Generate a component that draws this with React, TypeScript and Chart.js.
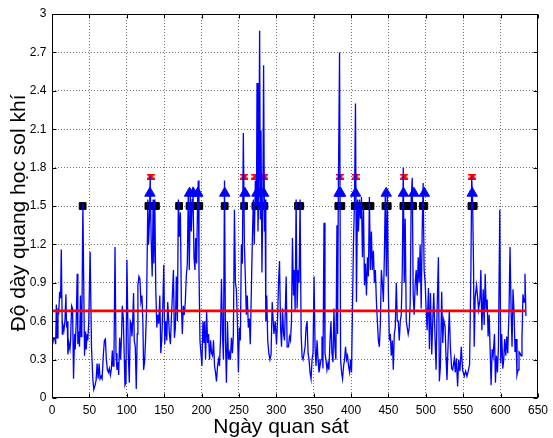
import React, { useEffect, useRef } from "react";
import { Chart, registerables } from "chart.js";

Chart.register(...registerables);

const FONT = '"Liberation Sans", Arial, Helvetica, sans-serif';

const xTitle = "Ngày quan sát";
const yTitle = "Độ dày quang học sol khí";

const xTicks = [0, 50, 100, 150, 200, 250, 300, 350, 400, 450, 500, 550, 600, 650];
const xTickLabels = ["0", "50", "100", "150", "200", "250", "300", "350", "400", "450", "500", "550", "600", "650"];
const yTicks = [0, 0.3, 0.6, 0.9, 1.2, 1.5, 1.8, 2.1, 2.4, 2.7, 3];
const yTickLabels = ["0", "0.3", "0.6", "0.9", "1.2", "1.5", "1.8", "2.1", "2.4", "2.7", "3"];

// observation day (x) of each AOD reading
const obsDays = [
  1, 2, 3.5, 4.9, 5.8, 6.7, 8, 8.9, 10.2, 11.5,
  12.4, 13.8, 14.6, 16, 17.3, 18.6, 19.5, 20.4, 21.3, 22.6,
  24, 24.8, 26.2, 27.5, 28.8, 30.2, 31, 32.4, 33.7, 34.6,
  35.9, 36.8, 38.1, 39, 39.9, 41.3, 42.6, 43.5, 44.8, 45.7,
  47, 47.9, 49.2, 51, 52.8, 54.6, 55.9, 57.7, 59, 60.3,
  61.7, 63, 64.3, 65.6, 67, 68.8, 70.1, 71.4, 72.7, 74.1,
  75.4, 76.7, 78.1, 79.4, 80.7, 81.6, 82.9, 84.3, 85.6, 86.9,
  88.3, 89.2, 90.5, 91.8, 93.1, 94, 95.4, 96.7, 97.6, 98.9,
  100.2, 102, 103.4, 104.7, 106, 106.9, 107.8, 109.1, 110, 111.4,
  112.7, 114, 114.9, 116.3, 117.6, 118.9, 120.3, 121.6, 122.5, 123.8,
  125.1, 126.4, 128.2, 129.1, 130.4, 131.3, 132.6, 134, 135.3, 136.2,
  137.5, 138.8, 140.2, 141.5, 142.8, 144.2, 145.5, 146.8, 148.1, 149.5,
  150.8, 152.1, 153.5, 154.8, 155.7, 157, 158.4, 159.7, 161, 162.4,
  163.7, 165, 166.3, 167.7, 169, 170.3, 171.7, 173, 174.3, 175.6,
  177, 178.3, 179.6, 181, 182.3, 183.6, 185, 186.3, 187.6, 188.5,
  189.9, 191.2, 192.1, 193.4, 194.8, 195.7, 196.6, 197.9, 199.2, 200.5,
  201.9, 203.2, 204.1, 205.4, 206.8, 208.1, 209.4, 210.7, 212.1, 213.4,
  214.7, 216, 217.4, 218.7, 220, 221.4, 222.7, 224, 225.3, 226.7,
  228, 229.3, 230.7, 232, 233.3, 234.7, 236, 237.3, 238.6, 240,
  241.3, 242.6, 244, 245.3, 246.6, 247.9, 249.3, 250.6, 251.9, 253.3,
  254.6, 255.9, 257.3, 258.6, 259.9, 261.2, 262.6, 263.9, 265.2, 266.5,
  268, 269.3, 270.5, 272, 273.5, 274.2, 275.5, 276.5, 277.7, 278.7,
  279.5, 280.8, 282, 283, 284.2, 285, 286, 287.2, 288.5, 290,
  291.5, 293, 294.5, 296.8, 298.5, 300.3, 301.7, 303, 304.3, 305.7,
  307, 308.3, 309.7, 311, 312, 313.2, 314.5, 316.3, 317.6, 319,
  320.3, 321.6, 323, 323.9, 325.2, 326.5, 327.8, 329.2, 330.5, 331.8,
  333.2, 334.5, 335.8, 337.2, 338.5, 339.8, 341.2, 342.5, 343.8, 345.1,
  346.5, 347.8, 349.1, 350.5, 351.8, 353.1, 354.5, 355.8, 357.1, 358.5,
  359.8, 361.1, 362.4, 363.8, 365.1, 366.4, 367.8, 369.1, 370.4, 371.8,
  373.1, 374.4, 375.8, 377.1, 378.4, 379.7, 381.1, 382, 382.9, 384.6,
  386, 387.3, 388.6, 390, 391.3, 392.6, 394, 395.3, 396.6, 398,
  399.3, 400.6, 402, 403.2, 404.6, 405.9, 407.2, 408.6, 409.9, 411.2,
  412.6, 413.9, 415.2, 416.6, 417.9, 419.2, 420.6, 421.9, 423.2, 424.5,
  425.9, 427.2, 428.5, 429.9, 431.2, 432.5, 433.9, 435.2, 436.5, 437.8,
  439.2, 440.5, 441.8, 443.2, 444.5, 445.8, 447.2, 448.5, 449.8, 451.2,
  452.5, 453.8, 455.2, 456.5, 457.8, 459.1, 460.5, 461.8, 463.1, 464.5,
  465.8, 467.1, 468.5, 469.8, 471.1, 472.4, 473.8, 475.1, 476.4, 477.8,
  479.1, 480.4, 481.8, 483.1, 484.4, 485.8, 487.1, 488.4, 489.8, 491.1,
  492.4, 493.8, 495.1, 496.4, 497.7, 499.1, 500.4, 501.7, 503.5, 504.8,
  506.2, 507.9, 509.3, 510.6, 512.4, 513.7, 515, 516.8, 518.1, 519.5,
  521.2, 522.6, 523.9, 525.7, 527, 528.3, 530.1, 531.4, 532.8, 534.5,
  535.9, 538.1, 539.4, 540.8, 542.5, 543.9, 545.6, 547.4, 549.2, 551.4,
  553.2, 555, 556.7, 558.5, 560.3, 561.3, 562.5, 563.8, 564.7, 566,
  567.8, 569.2, 570.5, 572.3, 573.6, 574.9, 576.7, 578, 579.4, 580.7,
  582, 583.3, 584.7, 586, 587.3, 588.7, 590, 591.8, 593.1, 594.4,
  595.8, 597.1, 598.9, 600.2, 601.5, 602.9, 604.2, 605.5, 606.9, 608.2,
  609.5, 611.3, 612.6, 614, 615.3, 616.6, 618, 619.3, 620.6, 621.9,
  623.3, 624.6, 625.9, 627.3, 628.6, 629.9, 631.3, 632.6, 633.9,
];

// aerosol optical depth at each observation day
const aodValues = [
  0.42, 0.47, 0.47, 0.42, 0.73, 0.47, 0.70, 0.65, 0.83, 0.78,
  1.16, 0.50, 0.57, 0.53, 0.60, 0.81, 0.55, 0.60, 0.34, 0.43,
  0.38, 0.44, 0.72, 0.70, 0.15, 0.50, 0.38, 0.60, 0.97, 0.42,
  0.52, 0.40, 0.80, 0.48, 0.58, 1.52, 0.80, 0.33, 0.52, 0.38,
  0.50, 0.45, 0.60, 1.14, 0.40, 0.15, 0.065, 0.10, 0.14, 0.27,
  0.15, 0.27, 0.15, 0.17, 0.15, 0.35, 0.45, 0.46, 0.30, 0.22,
  0.20, 0.23, 0.18, 0.23, 0.37, 0.25, 0.35, 1.18, 0.35, 0.22,
  0.28, 0.18, 0.47, 0.30, 0.50, 0.72, 0.62, 0.30, 0.10, 0.12,
  1.08, 0.35, 0.12, 0.60, 0.58, 0.48, 0.58, 0.82, 0.45, 0.40,
  0.07, 0.50, 0.88, 0.95, 0.93, 0.75, 0.80, 0.58, 0.22, 0.28,
  0.45, 0.68, 1.55, 1.20, 1.40, 1.73, 1.25, 0.95, 1.55, 1.05,
  1.55, 0.85, 0.55, 0.65, 0.58, 0.80, 0.35, 0.45, 0.70, 1.04,
  0.42, 0.60, 0.45, 0.75, 0.65, 0.50, 0.42, 0.63, 0.80, 1.00,
  0.47, 0.55, 0.95, 0.60, 1.55, 1.26, 1.45, 0.75, 0.50, 0.72,
  0.65, 0.75, 0.95, 1.05, 1.62, 1.00, 1.60, 1.30, 1.55, 1.65,
  1.10, 1.00, 1.25, 1.05, 1.55, 1.70, 1.00, 0.45, 0.35, 0.25,
  0.60, 0.43, 0.60, 0.30, 0.68, 0.43, 0.50, 0.30, 0.45, 0.35,
  0.33, 0.45, 0.25, 0.20, 0.13, 0.25, 0.30, 0.25, 0.45, 0.93,
  0.50, 0.30, 1.70, 0.45, 0.12, 0.60, 0.30, 0.35, 0.30, 0.47,
  0.35, 0.50, 1.47, 0.90, 0.85, 0.60, 0.20, 0.55, 0.45, 1.20,
  1.05, 2.07, 1.20, 0.95, 0.65, 0.80, 0.55, 0.62, 0.42, 0.80,
  1.25, 1.55, 1.20, 1.70, 1.50, 2.46, 1.30, 1.60, 2.87, 1.40,
  2.09, 0.98, 1.55, 2.60, 1.30, 1.55, 0.60, 0.80, 0.45, 0.35,
  0.30, 0.34, 0.75, 0.50, 0.60, 0.42, 0.62, 0.90, 1.07, 0.55,
  0.40, 0.70, 0.50, 0.45, 0.68, 0.95, 0.40, 0.40, 0.48, 0.45,
  0.60, 1.25, 0.80, 1.00, 0.68, 1.55, 0.70, 1.00, 0.90, 1.55,
  0.50, 0.32, 0.30, 0.35, 0.40, 0.55, 0.60, 0.35, 0.30, 0.20,
  0.15, 0.30, 0.35, 0.95, 0.40, 0.25, 0.45, 0.30, 0.20, 0.25,
  0.30, 0.48, 0.23, 1.37, 0.35, 0.30, 0.22, 0.27, 0.22, 0.45,
  0.60, 0.35, 0.28, 0.70, 0.40, 0.30, 1.35, 0.50, 1.55, 2.70,
  0.30, 0.20, 0.15, 0.25, 0.30, 0.40, 0.30, 0.33, 0.25, 0.20,
  0.30, 0.20, 0.75, 1.20, 1.55, 2.30, 0.75, 1.55, 1.30, 1.55,
  1.40, 1.57, 1.10, 1.50, 0.88, 1.05, 0.80, 1.10, 0.95, 1.57,
  1.00, 1.30, 1.00, 1.15, 0.90, 1.00, 0.75, 0.60, 0.45, 0.40,
  0.58, 1.00, 0.90, 0.75, 1.10, 1.60, 0.95, 1.62, 0.85, 0.45,
  0.50, 0.33, 0.45, 0.22, 0.50, 0.55, 0.90, 0.60, 0.60, 0.45,
  0.60, 0.65, 1.00, 1.80, 0.90, 1.40, 0.60, 0.55, 0.50, 0.55,
  0.75, 1.55, 1.72, 0.80, 0.65, 0.90, 1.00, 0.80, 1.10, 0.90,
  1.20, 0.70, 1.30, 1.68, 1.00, 0.90, 0.69, 0.53, 0.86, 0.38,
  0.82, 0.34, 0.61, 0.82, 0.45, 0.22, 0.68, 1.10, 0.13, 0.25,
  0.83, 0.43, 0.61, 0.56, 0.32, 0.14, 0.48, 0.68, 0.40, 0.23,
  0.22, 0.31, 0.20, 0.31, 0.09, 0.30, 0.21, 0.40, 0.22, 0.17,
  0.21, 0.17, 0.21, 0.26, 1.00, 1.73, 1.55, 1.03, 0.40, 0.79,
  0.88, 0.79, 0.69, 0.77, 1.00, 0.53, 0.85, 0.57, 0.97, 0.69,
  0.77, 0.48, 0.65, 0.38, 0.10, 0.38, 0.33, 0.50, 0.12, 0.33,
  0.20, 0.40, 1.47, 0.27, 0.50, 0.23, 0.30, 0.46, 0.33, 0.48,
  0.35, 0.69, 1.18, 0.69, 0.40, 0.85, 0.66, 0.36, 0.46, 0.18,
  0.22, 0.36, 0.35, 0.33, 0.46, 0.81, 0.75, 0.97, 0.64,
];

// mean AOD line
const meanAod = 0.68;
const meanDays = [1, 634];

// marker rows
const squareLevel = 1.5;
const squareDays = [41, 129, 132, 135, 139, 170, 184, 187, 190, 194, 197, 231, 257, 272, 275, 278, 281, 284, 329, 332, 383, 387, 405, 408, 411, 414, 417, 420, 423, 426, 446, 449, 470, 473, 477, 480, 483, 496, 498, 561, 564];
const triangleLevel = 1.6;
const triangleDays = [131, 184, 189, 195, 231, 258, 274, 278, 283, 384, 386, 406, 447, 470, 484, 498, 562];
const starLevel = 1.73;
const starDays = [132, 257, 272, 278, 284, 385, 406, 471, 562];

function makeStarImage(): HTMLCanvasElement {
  const c = document.createElement("canvas");
  c.width = 8;
  c.height = 6;
  const g = c.getContext("2d")!;
  g.fillStyle = "#ff0000";
  g.beginPath();
  g.moveTo(0, 0);
  g.lineTo(8, 0);
  g.lineTo(8, 1.6);
  g.lineTo(5.6, 3);
  g.lineTo(8, 4.4);
  g.lineTo(8, 6);
  g.lineTo(0, 6);
  g.lineTo(0, 4.4);
  g.lineTo(2.4, 3);
  g.lineTo(0, 1.6);
  g.closePath();
  g.fill();
  return c;
}

const boxPlugin = {
  id: "matlabBox",
  afterDraw(chart: any) {
    const { ctx, chartArea: a, scales } = chart;
    ctx.save();
    const L = Math.round(a.left) + 0.5;
    const R = Math.round(a.right) - 0.5;
    const T = Math.round(a.top) + 0.5;
    const B = Math.round(a.bottom) - 0.5;
    ctx.strokeStyle = "#000";
    ctx.lineWidth = 1;
    ctx.strokeRect(L, T, R - L, B - T);
    const tl = 4;
    ctx.beginPath();
    scales.x.ticks.forEach((t: any) => {
      const px = Math.round(scales.x.getPixelForValue(t.value)) + 0.5;
      ctx.moveTo(px, B);
      ctx.lineTo(px, B - tl);
      ctx.moveTo(px, T);
      ctx.lineTo(px, T + tl);
    });
    scales.y.ticks.forEach((t: any) => {
      const py = Math.round(scales.y.getPixelForValue(t.value)) + 0.5;
      ctx.moveTo(L, py);
      ctx.lineTo(L + tl, py);
      ctx.moveTo(R, py);
      ctx.lineTo(R - tl, py);
    });
    ctx.stroke();

    ctx.fillStyle = "#000";
    ctx.font = `21px ${FONT}`;
    ctx.textAlign = "center";
    ctx.textBaseline = "alphabetic";
    ctx.fillText(xTitle, 281, 433);
    ctx.translate(25, 213);
    ctx.rotate(-Math.PI / 2);
    ctx.fillText(yTitle, 0, 0);
    ctx.restore();
  },
};

export default function App() {
  const ref = useRef<HTMLCanvasElement | null>(null);

  useEffect(() => {
    document.body.style.margin = "0";
    const canvas = ref.current;
    if (!canvas) return;
    const starImg = makeStarImage();

    const series = obsDays.map((d, i) => ({ x: d, y: aodValues[i] }));
    const meanLine = meanDays.map((d) => ({ x: d, y: meanAod }));
    const squares = squareDays.map((d) => ({ x: d, y: squareLevel }));
    const triangles = triangleDays.map((d) => ({ x: d, y: triangleLevel }));
    const stars = starDays.map((d) => ({ x: d, y: starLevel }));

    const gridColor = (ctx: any) => {
      const n = ctx.scale.ticks.length;
      return ctx.index === 0 || ctx.index === n - 1 ? "rgba(0,0,0,0)" : "rgba(0,0,0,0.55)";
    };

    const chart = new Chart(canvas, {
      type: "line",
      data: {
        datasets: [
          {
            data: meanLine,
            borderColor: "#ff0000",
            borderWidth: 2.8,
            pointRadius: 0,
            showLine: true,
          },
          {
            data: series,
            borderColor: "#0000ff",
            borderWidth: 1.3,
            pointRadius: 0,
            tension: 0,
            showLine: true,
          },
          {
            data: stars,
            showLine: false,
            pointStyle: starImg as any,
            pointRadius: 4,
          },
          {
            data: triangles,
            showLine: false,
            pointStyle: "triangle",
            pointRadius: 6,
            backgroundColor: "#0000ff",
            borderColor: "#0000ff",
            borderWidth: 1,
          },
          {
            data: squares,
            showLine: false,
            pointStyle: "rect",
            pointRadius: 4.8,
            backgroundColor: "#000000",
            borderColor: "#000000",
            borderWidth: 1,
          },
        ],
      },
      options: {
        responsive: false,
        animation: false,
        events: [],
        layout: { padding: { top: 14, right: 12, left: 0, bottom: 0 } },
        plugins: { legend: { display: false }, tooltip: { enabled: false } },
        scales: {
          x: {
            type: "linear",
            min: 0,
            max: 650,
            afterBuildTicks: (s: any) => {
              s.ticks = xTicks.map((v) => ({ value: v }));
            },
            afterFit: (s: any) => {
              s.height = 40;
            },
            ticks: {
              autoSkip: false,
              maxRotation: 0,
              padding: 5,
              color: "#000",
              font: { family: FONT, size: 12 },
              callback: (_v: any, i: number) => xTickLabels[i],
            },
            grid: { color: gridColor, drawTicks: false, lineWidth: 1 },
            border: { display: false, dash: [1, 2] },
          },
          y: {
            type: "linear",
            min: 0,
            max: 3,
            afterBuildTicks: (s: any) => {
              s.ticks = yTicks.map((v) => ({ value: v }));
            },
            afterFit: (s: any) => {
              s.width = 52;
            },
            ticks: {
              padding: 5.5,
              color: "#000",
              font: { family: FONT, size: 12 },
              callback: (_v: any, i: number) => yTickLabels[i],
            },
            grid: { color: gridColor, drawTicks: false, lineWidth: 1 },
            border: { display: false, dash: [1, 2] },
          },
        },
      },
      plugins: [boxPlugin],
    });

    return () => chart.destroy();
  }, []);

  return (
    <div style={{ width: 553, height: 438, background: "#fff" }}>
      <canvas ref={ref} width={553} height={438} style={{ display: "block" }} />
    </div>
  );
}
